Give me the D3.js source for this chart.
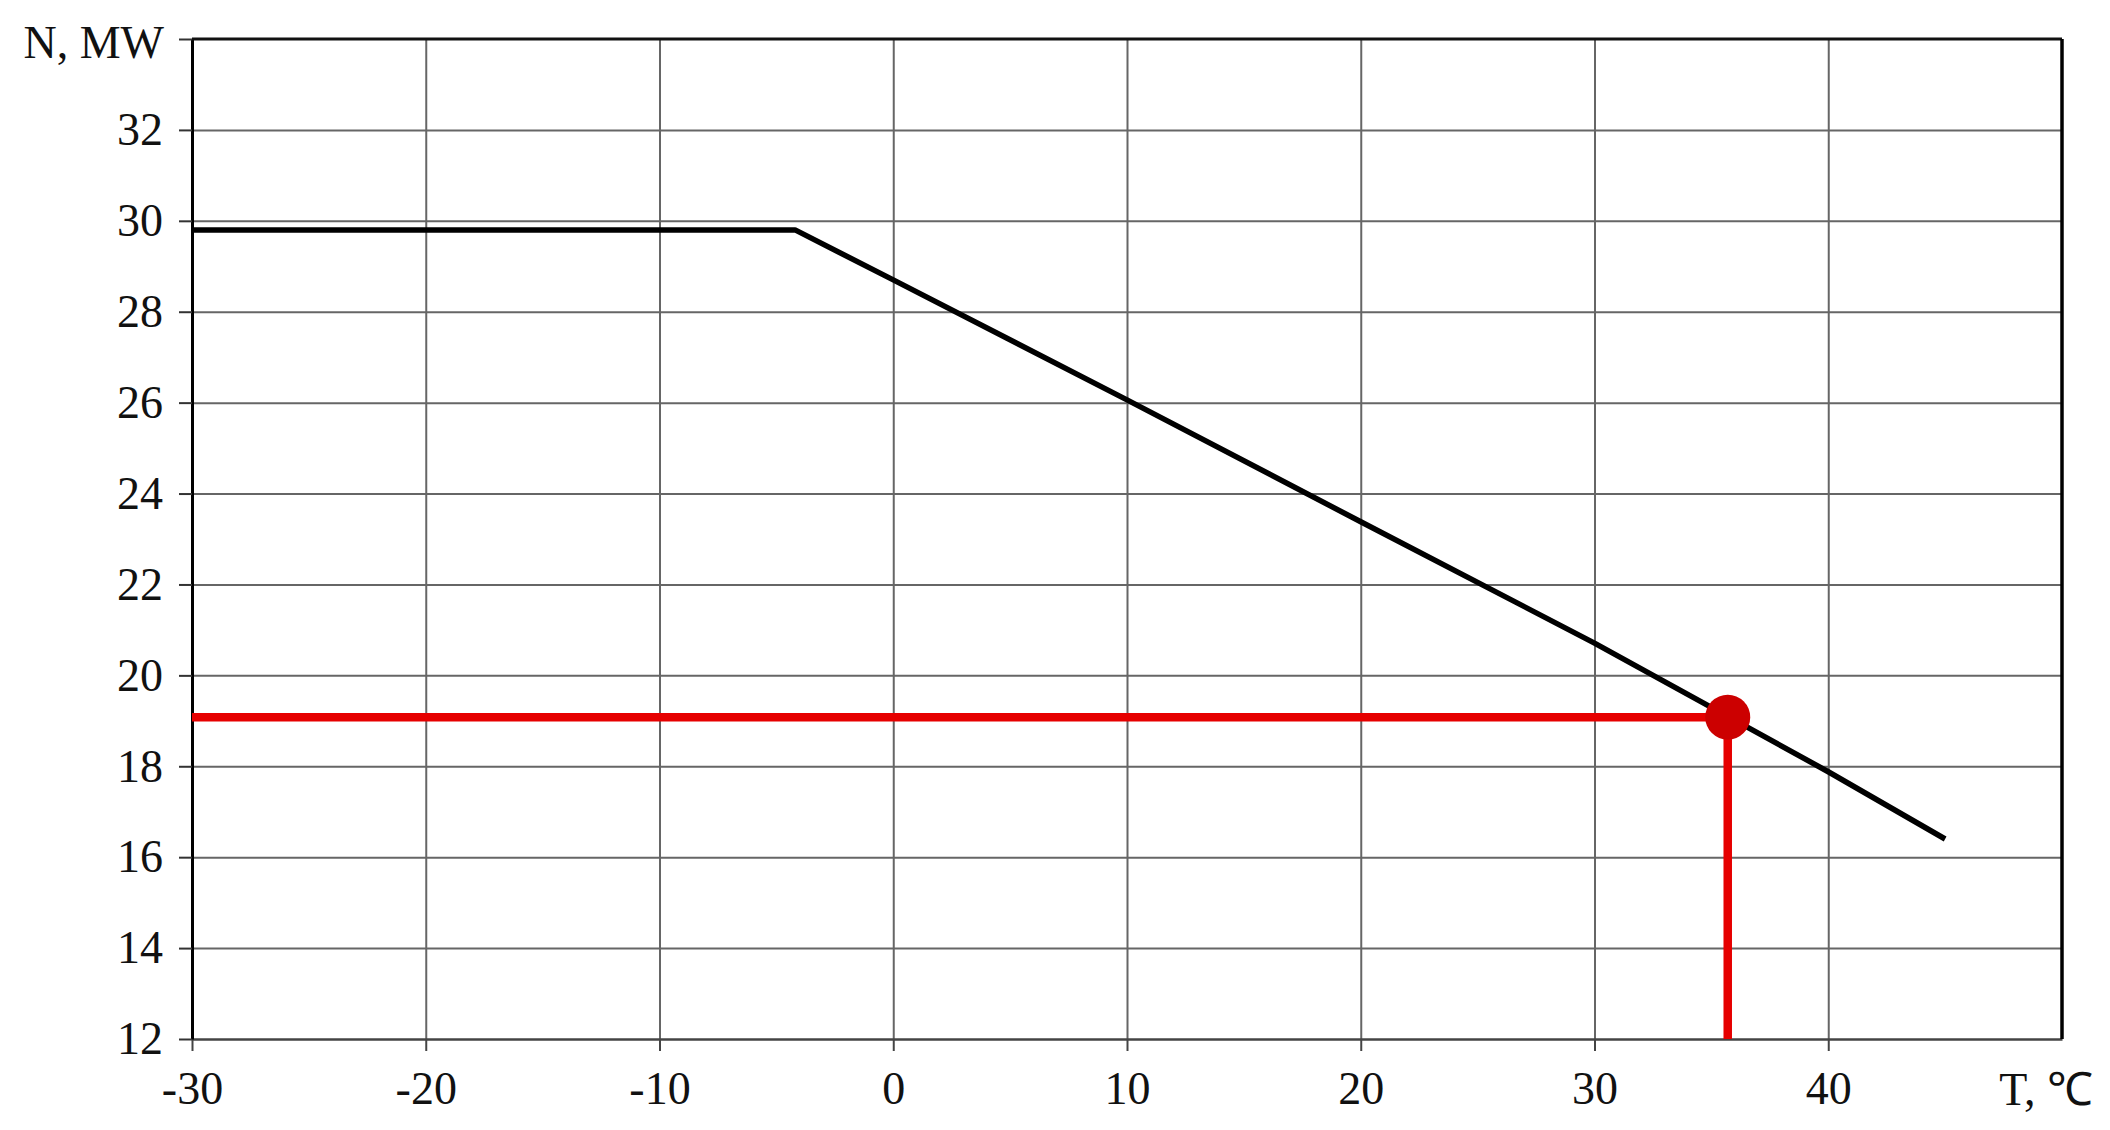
<!DOCTYPE html>
<html>
<head>
<meta charset="utf-8">
<script src="https://cdnjs.cloudflare.com/ajax/libs/d3/7.8.5/d3.min.js"></script>
<style>
  body { margin: 0; background: #fff; }
  text { font-family: "Liberation Serif", "Times New Roman", serif; fill: #111; }
</style>
</head>
<body>
<div id="chart"></div>
<script>
// Data
const temps = [-30, -4.2, 0, 10, 20, 30, 40, 45];
const power = [29.8, 29.8, 28.7, 26.06, 23.38, 20.71, 17.88, 16.4];
const pointT = [35.7];
const pointN = [19.08];
const xTicks = [-30, -20, -10, 0, 10, 20, 30, 40];
const yTicks = [12, 14, 16, 18, 20, 22, 24, 26, 28, 30, 32];

const width = 2110;
const height = 1130;
const margin = { left: 192, right: 48, top: 39, bottom: 91 };

const svg = d3.select("#chart")
  .append("svg")
  .attr("width", width)
  .attr("height", height);

const xScale = d3.scaleLinear()
  .domain([-30, 50])
  .range([margin.left, width - margin.right]);

const yScale = d3.scaleLinear()
  .domain([12, 34])
  .range([height - margin.bottom, margin.top]);

// vertical grid lines
svg.append("g")
  .attr("transform", `translate(0, ${height - margin.bottom})`)
  .call(d3.axisBottom(xScale).tickValues(xTicks.slice(1)).tickSize(-(height - margin.top - margin.bottom)).tickFormat(""))
  .call(g => g.select(".domain").remove())
  .selectAll("line").attr("stroke", "#666").attr("stroke-width", 2);

// horizontal grid lines
svg.append("g")
  .attr("transform", `translate(${margin.left}, 0)`)
  .call(d3.axisLeft(yScale).tickValues(yTicks.slice(1)).tickSize(-(width - margin.left - margin.right)).tickFormat(""))
  .call(g => g.select(".domain").remove())
  .selectAll("line").attr("stroke", "#666").attr("stroke-width", 2);

// x axis (plain hyphen for negatives, like the original)
const xAxis = svg.append("g")
  .attr("transform", `translate(0, ${height - margin.bottom})`)
  .call(d3.axisBottom(xScale).tickValues(xTicks).tickSize(12).tickPadding(20).tickSizeOuter(0)
    .tickFormat(d => String(d)));
xAxis.select(".domain").attr("stroke", "#444").attr("stroke-width", 2.5);
xAxis.selectAll(".tick line").attr("stroke", "#444").attr("stroke-width", 2);
xAxis.selectAll("text").attr("font-size", 46).attr("fill", "#111");

// y axis
const yAxis = svg.append("g")
  .attr("transform", `translate(${margin.left}, 0)`)
  .call(d3.axisLeft(yScale).tickValues(yTicks.concat([34])).tickSize(13).tickPadding(16).tickSizeOuter(0)
    .tickFormat(d => d === 34 ? "" : String(d)));
yAxis.select(".domain").attr("stroke", "#000").attr("stroke-width", 3);
yAxis.selectAll(".tick line").attr("stroke", "#333").attr("stroke-width", 2);
yAxis.selectAll("text").attr("font-size", 46).attr("fill", "#111");

// top and right border
svg.append("line")
  .attr("x1", xScale(-30)).attr("x2", xScale(50))
  .attr("y1", yScale(34)).attr("y2", yScale(34))
  .attr("stroke", "#111").attr("stroke-width", 3);
svg.append("line")
  .attr("x1", xScale(50)).attr("x2", xScale(50))
  .attr("y1", yScale(34)).attr("y2", yScale(12))
  .attr("stroke", "#000").attr("stroke-width", 3.5);

// the curve
const line = d3.line()
  .x((d, i) => xScale(temps[i]))
  .y(d => yScale(d));

svg.append("path")
  .datum(power)
  .attr("fill", "none")
  .attr("stroke", "#000")
  .attr("stroke-width", 5.5)
  .attr("stroke-linejoin", "round")
  .attr("d", line);

// red guide lines
svg.append("line")
  .attr("x1", xScale(-30)).attr("x2", xScale(pointT[0]))
  .attr("y1", yScale(pointN[0])).attr("y2", yScale(pointN[0]))
  .attr("stroke", "#e60000").attr("stroke-width", 8.5);
svg.append("line")
  .attr("x1", xScale(pointT[0])).attr("x2", xScale(pointT[0]))
  .attr("y1", yScale(pointN[0])).attr("y2", yScale(12))
  .attr("stroke", "#e60000").attr("stroke-width", 8.5);

svg.selectAll(".pt")
  .data(pointT)
  .enter()
  .append("circle")
  .attr("class", "pt")
  .attr("cx", d => xScale(d))
  .attr("cy", (d, i) => yScale(pointN[i]))
  .attr("r", 22.5)
  .attr("fill", "#cc0000");

// axis titles
svg.append("text")
  .attr("x", 164).attr("y", 58)
  .attr("text-anchor", "end")
  .attr("font-size", 46)
  .text("N, MW");

svg.append("text")
  .attr("x", 2093).attr("y", 1105)
  .attr("text-anchor", "end")
  .attr("font-size", 46)
  .text("T, ℃");
</script>
</body>
</html>
